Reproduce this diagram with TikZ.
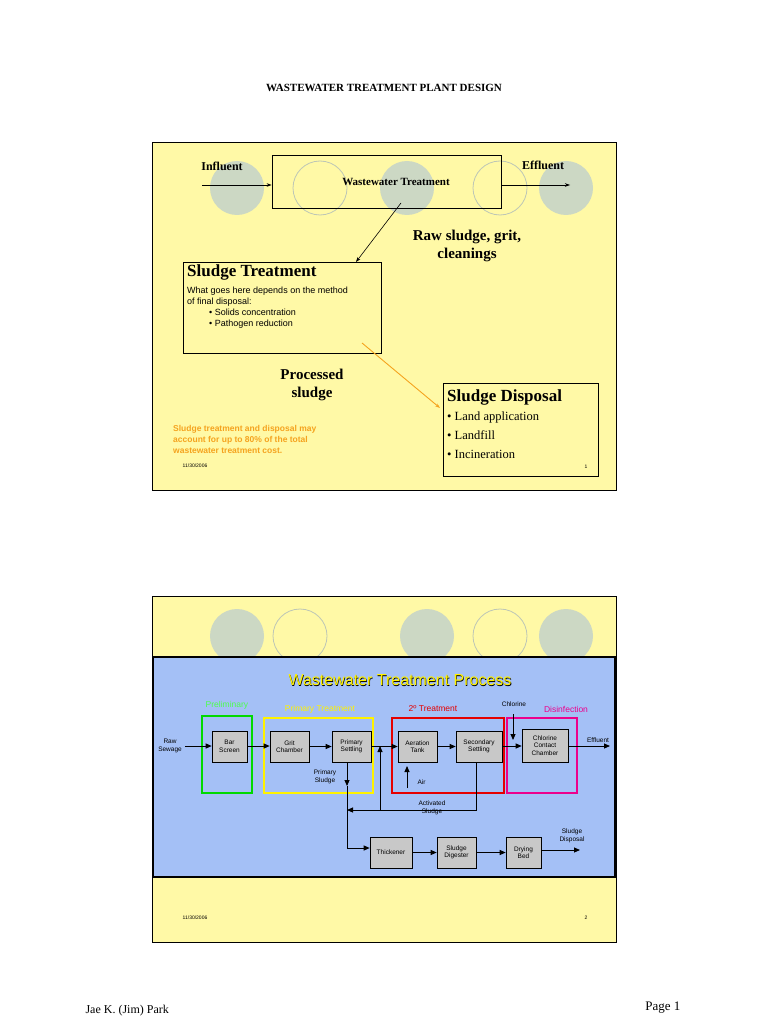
\documentclass[tikz,border=0pt]{standalone}
\usepackage{fontspec}
\setmainfont{Liberation Serif}
\setsansfont{Liberation Sans}
\usetikzlibrary{arrows.meta}
\definecolor{slideY}{HTML}{FFF9A6}
\definecolor{circ}{HTML}{CCD8C4}
\definecolor{panel}{HTML}{A4C0F6}
\definecolor{boxg}{HTML}{C8C8C8}
\definecolor{orng}{HTML}{F5A31E}
\begin{document}
\begin{tikzpicture}[x=1pt,y=-1pt,
 fc/.style={fill=circ,draw=none},
 oc/.style={draw=circ!80!gray,line width=0.8pt},
 arr/.style={-{Stealth[length=5pt,width=3.5pt]},line width=0.6pt},
 parr/.style={-{Triangle[length=6pt,width=5pt]},line width=0.9pt},
 pbox/.style={draw=black,fill=boxg,line width=0.6pt,font=\sffamily\fontsize{6.5}{7.5}\selectfont,align=center,inner sep=0pt},
 small/.style={font=\sffamily\fontsize{6.5}{7.5}\selectfont,align=center}]
\useasboundingbox (0,0) rectangle (768,1024);
\fill[white] (0,0) rectangle (768,1024);
\node[font=\fontsize{11}{13}\selectfont\bfseries] (hdr) at (384,88) {WASTEWATER TREATMENT PLANT DESIGN};
% slide 1
\draw[fill=slideY,line width=0.8pt] (152,142) rectangle (616,490);
\foreach \x in {237,407,566} \fill[fc] (\x,188) circle (27);
\foreach \x in {320,500} \draw[oc] (\x,188) circle (27);
\node[draw,line width=0.8pt,minimum width=229pt,minimum height=53pt] (wt) at (386.5,181.5) {};
\node[font=\fontsize{11}{13}\selectfont\bfseries] (wtl) at (396,182) {Wastewater Treatment};
\node[font=\fontsize{12}{14}\selectfont\bfseries] (inf) at (222,166) {Influent};
\node[font=\fontsize{12}{14}\selectfont\bfseries] (eff) at (543,165) {Effluent};
\coordinate (ia) at (202,185); \coordinate (eb) at (570,185);
\draw[arr] (ia) -- (wt.west|-ia);
\draw[arr] (wt.east|-eb) -- (eb);
\node[draw,line width=0.8pt,minimum width=198pt,minimum height=91pt] (st) at (282,307.5) {};
\node[anchor=north west,inner sep=0pt,font=\fontsize{17}{19}\selectfont\bfseries] (stl) at (187,265) {Sludge Treatment};
\node[anchor=north west,inner sep=0pt,align=left,font=\sffamily\fontsize{9}{11}\selectfont] (stb) at (187,287) {What goes here depends on the method\\ of final disposal:\\ \hspace*{22pt}\textbullet\ Solids concentration\\ \hspace*{22pt}\textbullet\ Pathogen reduction};
\coordinate (wtb) at (401,203); \coordinate (stt) at (356,262);
\draw[arr] (wtb) -- (stt);
\node[font=\fontsize{15}{18}\selectfont\bfseries,align=center] (raw) at (467,246) {Raw sludge, grit,\\cleanings};
\node[draw,line width=0.8pt,minimum width=155pt,minimum height=93pt] (sd) at (520.5,429.5) {};
\node[anchor=north west,inner sep=0pt,font=\fontsize{17}{19}\selectfont\bfseries] (sdl) at (447,390) {Sludge Disposal};
\node[anchor=north west,inner sep=0pt,align=left,font=\fontsize{12.5}{19}\selectfont] (sdb) at (447,412) {\textbullet\ Land application\\ \textbullet\ Landfill\\ \textbullet\ Incineration};
\coordinate (oa) at (362,343); \coordinate (ob) at (440,408);
\draw[arr,orng,line width=0.9pt] (oa) -- (ob);
\node[font=\fontsize{15}{18}\selectfont\bfseries,align=center] (proc) at (312,385) {Processed\\sludge};
\node[anchor=north west,inner sep=0pt,align=left,text=orng,font=\sffamily\bfseries\fontsize{8.5}{11}\selectfont] (note) at (173,425) {Sludge treatment and disposal may\\account for up to 80\% of the total\\wastewater treatment cost.};
\node[font=\sffamily\fontsize{5}{6}\selectfont] (d1) at (195,466) {11/30/2006};
\node[font=\sffamily\fontsize{5}{6}\selectfont] (n1) at (586,467) {1};
% slide 2
\draw[fill=slideY,line width=0.8pt] (152,596) rectangle (616,942);
\foreach \x in {237,427,566} \fill[fc] (\x,636) circle (27);
\foreach \x in {300,500} \draw[oc] (\x,636) circle (27);
\draw[fill=panel,line width=2pt] (153,657) rectangle (615,877);
\node[font=\sffamily\fontsize{16}{18}\selectfont,text=black] at (400.6,680.6) {Wastewater Treatment Process};
\node[font=\sffamily\fontsize{16}{18}\selectfont,text=yellow] (t2) at (400,680) {Wastewater Treatment Process};
% frames
\draw[green!85!black,line width=1.3pt] (202,716) rectangle (252,793);
\draw[yellow,line width=1.3pt] (264,718) rectangle (373,793);
\draw[red!90!black,line width=1.6pt] (392,718) rectangle (504,793);
\draw[magenta,line width=1.3pt] (507,718) rectangle (577,793);
\node[font=\sffamily\fontsize{8.5}{10}\selectfont,text=green!70!white] at (227,705) {Preliminary};
\node[font=\sffamily\fontsize{8.5}{10}\selectfont,text=yellow] at (320,709) {Primary Treatment};
\node[font=\sffamily\fontsize{8.5}{10}\selectfont,text=red!90!black] at (433,709) {2º Treatment};
\node[font=\sffamily\fontsize{8.5}{10}\selectfont,text=magenta] at (566,709) {Disinfection};
\node[small] (chl) at (514,704) {Chlorine};
% boxes
\node[pbox,minimum width=35pt,minimum height=31pt] (bs) at (229.5,746.5) {Bar\\Screen};
\node[pbox,minimum width=39pt,minimum height=31pt] (gc) at (289.5,746.5) {Grit\\Chamber};
\node[pbox,minimum width=39pt,minimum height=31pt] (ps) at (351.5,746.5) {Primary\\Settling};
\node[pbox,minimum width=39pt,minimum height=31pt] (at) at (417.5,746.5) {Aeration\\Tank};
\node[pbox,minimum width=46pt,minimum height=31pt] (ss) at (479,746.5) {Secondary\\Settling};
\node[pbox,minimum width=46pt,minimum height=33pt] (cc) at (545,745.5) {Chlorine\\Contact\\Chamber};
\node[pbox,minimum width=42pt,minimum height=31pt] (th) at (391,852.5) {Thickener};
\node[pbox,minimum width=39pt,minimum height=31pt] (dg) at (456.5,852.5) {Sludge\\Digester};
\node[pbox,minimum width=35pt,minimum height=31pt] (db) at (523.5,852.5) {Drying\\Bed};
\node[small] (rs) at (170,746) {Raw\\Sewage};
\node[small] (ef) at (598,740) {Effluent};
\coordinate (rsin) at (185,746); \coordinate (efo) at (610,746);
\draw[parr] (rsin) -- (bs.west|-rsin);
\draw[parr] (bs.east|-rsin) -- (gc.west|-rsin);
\draw[parr] (gc) -- (ps);
\draw[parr] (ps) -- (at);
\draw[parr] (at) -- (ss);
\draw[parr] (ss.east|-rsin) -- (cc.west|-rsin);
\draw[parr] (cc.east|-rsin) -- (efo);
\coordinate (chs) at (513,714); \coordinate (che) at (513,740);
\draw[parr] (chs) -- (che);
\coordinate (ais) at (407,788); \coordinate (aie) at (407,766);
\draw[parr] (ais) -- (aie);
\node[small,anchor=west] (air) at (414,782) {Air};
\node[small] (psl) at (325,777) {Primary\\Sludge};
\coordinate (ps1) at (347,762); \coordinate (ps2) at (347,786); \coordinate (jn) at (347,810); \coordinate (ps3) at (347,848);
\draw[parr] (ps1) -- (ps2);
\draw[line width=0.9pt] (ps2) -- (ps3);
\draw[parr] (ps3) -- (th.west|-ps3);
\coordinate (as1) at (476,762); \coordinate (as2) at (476,810); \coordinate (br) at (380,810); \coordinate (bu) at (380,746);
\draw[line width=0.9pt] (as1) -- (as2) -- (br);
\draw[parr] (br) -- (jn);
\draw[parr] (br) -- (bu);
\node[small] (asl) at (432,808) {Activated\\Sludge};
\draw[parr] (th) -- (dg);
\draw[parr] (dg) -- (db);
\coordinate (sdo) at (580,850);
\draw[parr] (db.east|-sdo) -- (sdo);
\node[small] (sdl2) at (572,836) {Sludge\\Disposal};
\node[font=\sffamily\fontsize{5}{6}\selectfont] (d2) at (195,918) {11/30/2006};
\node[font=\sffamily\fontsize{5}{6}\selectfont] (n2) at (586,918) {2};
% footer
\node[font=\fontsize{12}{14}\selectfont,anchor=west] (ft) at (82,1011) {Jae K. (Jim) Park};
\node[font=\fontsize{13}{15}\selectfont,anchor=east] (pg) at (684,1008) {Page 1};
\end{tikzpicture}
\end{document}
